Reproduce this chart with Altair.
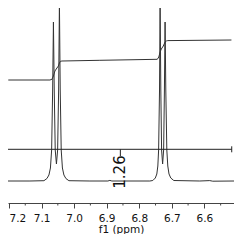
import altair as alt
import pandas as pd

# Spectrum trace (ppm, intensity in plot units)
spec_ppm = [7.2101, 7.1356, 7.0926, 7.0834, 7.0773, 7.0727, 7.0690, 7.0659, 7.0635, 7.0610,
            7.0580, 7.0543, 7.0506, 7.0475, 7.0451, 7.0426, 7.0396, 7.0359, 7.0313, 7.0252,
            7.0160, 6.9515, 6.8963, 6.8902, 6.8840, 6.7675, 6.7583, 6.7506, 6.7460, 6.7429,
            6.7405, 6.7377, 6.7359, 6.7337, 6.7313, 6.7282, 6.7251, 6.7227, 6.7206, 6.7184,
            6.7153, 6.7123, 6.7086, 6.7031, 6.6939, 6.6141, 6.5834, 6.5742, 6.5089]
spec_int = [22, 22, 22.3, 24.5, 28, 35, 53, 113, 181, 113,
            53, 39, 53, 113, 201, 113, 53, 35, 28, 24.5,
            22.3, 22, 22, 22.6, 22, 22, 22.5, 25, 29, 37,
            53, 113, 201, 113, 53, 39, 53, 113, 181, 113,
            53, 37, 29, 25, 22.5, 22, 22.4, 21.8, 22]

# Integral curve
integ_ppm = [7.2021, 7.0742, 7.0681, 7.0635, 7.0589, 7.0528, 7.0482, 7.0451, 7.0420, 7.0374,
             6.9209, 6.7445, 6.7399, 6.7359, 6.7322, 6.7261, 6.7206, 6.7169, 6.7123, 6.5169]
integ_val = [123, 123, 123.7, 127, 132, 135, 137, 140, 141.7, 142,
             142.7, 143.7, 146, 151, 154, 157, 161, 162, 162.4, 163]

# Integration bracket
br_start, br_end, br_mid = 7.2052, 6.5160, 6.858
br_level, br_cap_lo, br_cap_hi, br_mid_low = 53.7, 50.7, 56.7, 47
integ_label = "1.26"
label_level = 31

major_ticks = [7.2, 7.1, 7.0, 6.9, 6.8, 6.7, 6.6]
minor_ticks = [7.15, 7.05, 6.95, 6.85, 6.75, 6.65, 6.55]

W, H = 226, 195
xscale = alt.Scale(domain=[6.509, 7.203], reverse=True, nice=False, zero=False)
yscale = alt.Scale(domain=[0, H], nice=False, zero=False)

xaxis = alt.Axis(values=major_ticks, format=".1f", tickSize=5, tickColor="#444",
                 domainColor="#444", labelFont="DejaVu Sans", labelFontSize=10.5,
                 labelColor="#111", labelPadding=5, labelOverlap=False, labelFlush=5,
                 title="f1 (ppm)",
                 titleFont="DejaVu Sans", titleFontSize=10.5, titleFontWeight="normal",
                 titleColor="#111", titleY=26, titleBaseline="middle", grid=False)


def X(field):
    return alt.X(field, scale=xscale, axis=xaxis, title="f1 (ppm)")


def Y(field):
    return alt.Y(field, scale=yscale, axis=None)


spec_df = pd.DataFrame({"ppm": spec_ppm, "v": spec_int}).reset_index()
integ_df = pd.DataFrame({"ppm": integ_ppm, "v": integ_val}).reset_index()

spec = alt.Chart(spec_df).mark_line(color="#333", strokeWidth=1, clip=True).encode(
    x=X("ppm:Q"), y=Y("v:Q"), order="index:Q")
integ = alt.Chart(integ_df).mark_line(color="#333", strokeWidth=1).encode(
    x=X("ppm:Q"), y=Y("v:Q"), order="index:Q")

hline_df = pd.DataFrame({"x1": [br_start], "x2": [br_end], "y": [br_level]})
hline = alt.Chart(hline_df).mark_rule(color="#222", strokeWidth=1).encode(
    x=X("x1:Q"), x2="x2", y=Y("y:Q"))
caps_df = pd.DataFrame({"x": [br_start, br_end], "y1": [br_cap_lo] * 2, "y2": [br_cap_hi] * 2})
caps = alt.Chart(caps_df).mark_rule(color="#222", strokeWidth=1).encode(
    x=X("x:Q"), y=Y("y1:Q"), y2="y2")
mid_df = pd.DataFrame({"x": [br_mid], "y1": [br_mid_low], "y2": [br_level]})
mid = alt.Chart(mid_df).mark_rule(color="#222", strokeWidth=1).encode(
    x=X("x:Q"), y=Y("y1:Q"), y2="y2")
lab_df = pd.DataFrame({"x": [br_mid], "y": [label_level], "t": [integ_label]})
lab = alt.Chart(lab_df).mark_text(angle=270, font="DejaVu Sans", fontSize=15,
                                  align="center", baseline="middle", color="#111").encode(
    x=X("x:Q"), y=Y("y:Q"), text="t:N")

minor_df = pd.DataFrame({"x": minor_ticks})
minor = alt.Chart(minor_df).mark_rule(color="#444", strokeWidth=1).encode(
    x=X("x:Q"), y=alt.value(H), y2=alt.value(H + 2.5))

chart = alt.layer(spec, integ, hline, caps, mid, lab, minor).properties(
    width=W, height=H,
    autosize=alt.AutoSizeParams(type="none"),
    padding={"left": 0, "top": 0, "right": 0, "bottom": 31},
).configure_view(stroke=None)

chart.save("out.html", embed_options={"renderer": "svg", "actions": False})
